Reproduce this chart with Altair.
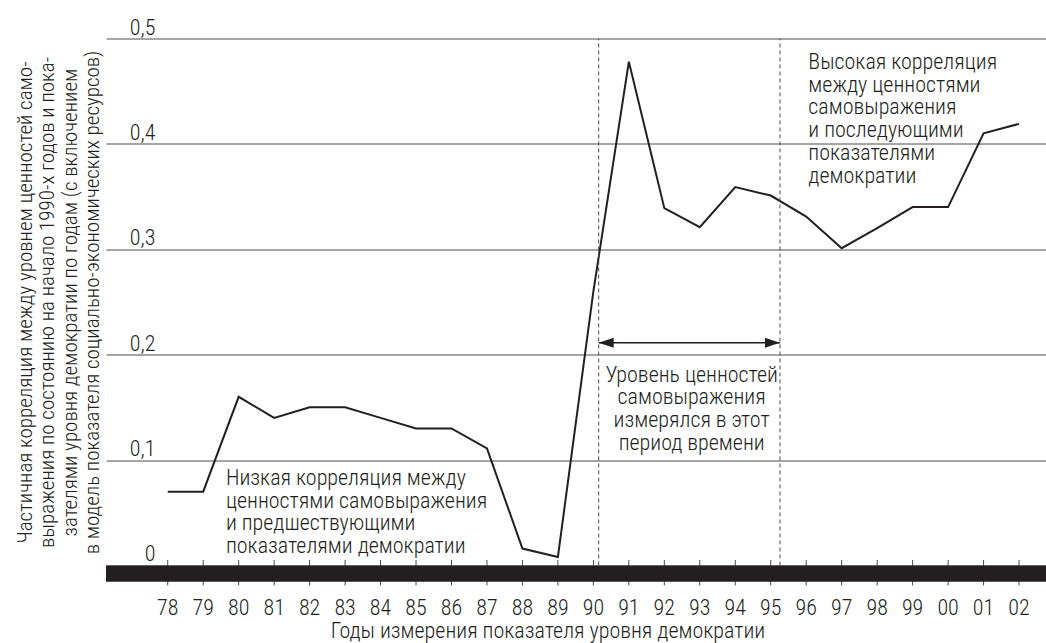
import altair as alt
import pandas as pd

# Measurement years of the democracy indicator and partial correlations
years = [1978, 1979, 1980, 1981, 1982, 1983, 1984, 1985, 1986, 1987, 1988, 1989,
         1990, 1991, 1992, 1993, 1994, 1995, 1996, 1997, 1998, 1999, 2000, 2001, 2002]
year_labels = ["78", "79", "80", "81", "82", "83", "84", "85", "86", "87", "88", "89",
               "90", "91", "92", "93", "94", "95", "96", "97", "98", "99", "00", "01", "02"]
corr = [0.07, 0.07, 0.16, 0.14, 0.15, 0.15, 0.14, 0.13, 0.13, 0.111, 0.016, 0.008,
        0.26, 0.478, 0.339, 0.321, 0.359, 0.351, 0.331, 0.301, 0.32, 0.34, 0.34, 0.41, 0.419]
y_ticks = [0, 0.1, 0.2, 0.3, 0.4, 0.5]

# Period during which self-expression values were measured
period = [1990.15, 1995.26]
period_arrow_y = 0.2114

y_title = [
    "Частичная корреляция между уровнем ценностей само-",
    "выражения по состоянию на начало 1990-х годов и пока-",
    "зателями уровня демократии по годам (с включением",
    "в модель показателя социально-экономических ресурсов)",
]
x_title = "Годы измерения показателя уровня демократии"

notes_text = [
    "Низкая корреляция между\nценностями самовыражения\nи предшествующими\nпоказателями демократии",
    "Высокая корреляция\nмежду ценностями\nсамовыражения\nи последующими\nпоказателями\nдемократии",
    "Уровень ценностей\nсамовыражения\nизмерялся в этот\nпериод времени",
]
notes_x = [1979.64, 1996.06, 1992.77]
notes_y = [0.0764, 0.471, 0.1744]
notes_align = ["left", "left", "center"]

FONT = "Liberation Sans Narrow, Roboto Condensed, DejaVu Sans Condensed, sans-serif"
WEIGHT = 300
INK = "#231f20"
GRID = "#4d4d4d"
FS = 22
LH = 22.7

W, H = 940, 548
X_DOM = [1976.26, 2002.76]
Y_DOM = [-0.02, 0.5]
YEAR_LABEL_Y = -0.0466

xs = alt.Scale(domain=X_DOM, nice=False, zero=False)
ys = alt.Scale(domain=Y_DOM, nice=False, zero=False)

series = pd.DataFrame({"year": years, "corr": corr})
ticks_df = pd.DataFrame({"year": years, "label": year_labels,
                         "top": 0.0052, "bot": -0.019, "ly": YEAR_LABEL_Y})
period_df = pd.DataFrame({"x": period, "y0": 0.0, "y1": 0.5})
arrow_df = pd.DataFrame({"x": [period[0]], "x2": [period[1]], "y": [period_arrow_y]})
heads_df = pd.DataFrame({
    "x": period,
    "y": [period_arrow_y, period_arrow_y],
    "shape": ["M0,0L2,-0.667L2,0.667Z", "M0,0L-2,-0.667L-2,0.667Z"],
})

base_line = alt.Chart(series).mark_line(color=INK, strokeWidth=2).encode(
    x=alt.X(
        "year:Q", scale=xs,
        axis=alt.Axis(
            labels=False, grid=False, domain=False, ticks=False, tickSize=0,
            title=x_title, titleFont=FONT, titleFontSize=FS,
            titleFontWeight=WEIGHT, titleColor=INK,
            titleX=441.5, titleY=51.4, titleAlign="center",
            titleBaseline="alphabetic",
        ),
    ),
    y=alt.Y(
        "corr:Q", scale=ys,
        axis=alt.Axis(
            values=y_ticks,
            labelExpr="datum.value == 0 ? '0' : replace(format(datum.value, '.1f'), '.', ',')",
            grid=True, gridColor=GRID, gridWidth=1,
            domain=False, ticks=False, tickSize=0,
            labelAlign="right", labelPadding=-49, labelBaseline="alphabetic",
            labelOffset=-4.5, labelFont=FONT, labelFontSize=FS,
            labelFontWeight=WEIGHT, labelColor=INK,
            labelFlush=False, labelOverlap=False,
            title=y_title, titleFont=FONT, titleFontSize=21,
            titleFontWeight=WEIGHT, titleColor=INK, titleAngle=270,
            titleAlign="center", titleBaseline="alphabetic",
            titleX=-75, titleY=263.5, titleLineHeight=22.5,
        ),
    ),
)

# Thick black baseline under zero
bar = alt.Chart(pd.DataFrame({"a": [0]})).mark_rect(color=INK).encode(
    x=alt.value(0), x2=alt.value(W),
    y=alt.datum(0, scale=ys), y2=alt.datum(-0.0154),
)

year_ticks = alt.Chart(ticks_df).mark_rule(color=GRID, strokeWidth=1).encode(
    x=alt.X("year:Q", scale=xs),
    y=alt.Y("top:Q", scale=ys),
    y2="bot:Q",
)

year_text = alt.Chart(ticks_df).mark_text(
    align="center", baseline="alphabetic",
    font=FONT, fontSize=FS, fontWeight=WEIGHT, color=INK,
).encode(
    x=alt.X("year:Q", scale=xs),
    y=alt.Y("ly:Q", scale=ys),
    text="label:N",
)

period_lines = alt.Chart(period_df).mark_rule(
    color=GRID, strokeWidth=1, strokeDash=[4, 3]
).encode(
    x=alt.X("x:Q", scale=xs),
    y=alt.Y("y0:Q", scale=ys),
    y2="y1:Q",
)

arrow_shaft = alt.Chart(arrow_df).mark_rule(color=INK, strokeWidth=1.5).encode(
    x=alt.X("x:Q", scale=xs),
    x2="x2:Q",
    y=alt.Y("y:Q", scale=ys),
)

arrow_heads = alt.Chart(heads_df).mark_point(
    filled=True, color=INK, opacity=1, size=225, strokeWidth=0
).encode(
    x=alt.X("x:Q", scale=xs),
    y=alt.Y("y:Q", scale=ys),
    shape=alt.Shape("shape:N", scale=None, legend=None),
)

note_layers = []
for txt, nx, ny, al in zip(notes_text, notes_x, notes_y, notes_align):
    df = pd.DataFrame({"t": [txt], "x": [nx], "y": [ny]})
    note_layers.append(
        alt.Chart(df).mark_text(
            align=al, baseline="alphabetic", lineBreak="\n", lineHeight=LH,
            font=FONT, fontSize=FS, fontWeight=WEIGHT, color=INK,
        ).encode(
            x=alt.X("x:Q", scale=xs),
            y=alt.Y("y:Q", scale=ys),
            text="t:N",
        )
    )

chart = alt.layer(
    base_line, period_lines, year_ticks, bar, year_text,
    arrow_shaft, arrow_heads, *note_layers
).properties(
    width=W, height=H,
    autosize="none",
    padding={"left": 106, "top": 38.5, "right": 0, "bottom": 643 - 38.5 - H},
    background="white",
).configure_view(
    stroke="transparent"
).configure_axis(
    labelOverlap=False, labelFlush=False
)

chart.save("out.html", embed_options={"renderer": "svg", "actions": False})
